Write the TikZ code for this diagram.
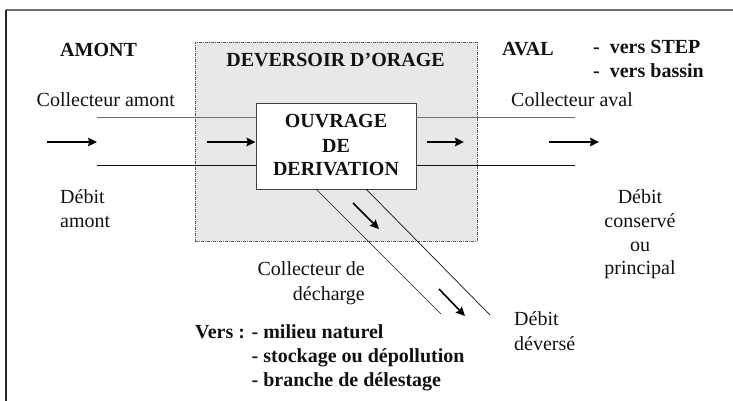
\documentclass[tikz,border=0pt]{standalone}
\usepackage{fontspec}
\setmainfont{Liberation Serif}
\usetikzlibrary{arrows.meta}
\definecolor{boxgray}{HTML}{E8E8E8}
\definecolor{linegray}{HTML}{6E6E6E}
\definecolor{inkc}{HTML}{111111}
\begin{document}
\begin{tikzpicture}[x=1pt,y=-1pt,
  txt/.style={font=\fontsize{20}{24}\selectfont, inner sep=0pt, text height=14pt, text depth=4pt, text=inkc},
  btxt/.style={txt, font=\fontsize{20}{24}\selectfont\bfseries},
  pipe/.style={line width=0.9pt, draw=inkc},
  flow/.style={line width=1.6pt, draw=black, -{Stealth[length=9pt,width=8.5pt,inset=1.2pt]}}
]
\useasboundingbox (0,0) rectangle (733,401);
% frame
\draw[linegray, line width=1.2pt] (6,10) -- (733,10);
\draw[black!85, line width=1.3pt] (6,10) -- (6,401);

% deversoir box
\node[draw=black!65, fill=boxgray, line width=0.8pt, dash pattern=on 3pt off 1pt on 1pt off 1pt,
      minimum width=282pt, minimum height=199pt, inner sep=0pt] (dev) at (336,141.5) {};
\node[btxt] (devt) at (335.5,62) {DEVERSOIR D'ORAGE};

% ouvrage box
\node[draw=black!75, fill=white, line width=0.9pt, minimum width=160pt, minimum height=86pt, inner sep=0pt] (ouv) at (336,146) {};
\node[btxt] (o1) at (336,123) {OUVRAGE};
\node[btxt] (o2) at (336,147) {DE};
\node[btxt] (o3) at (336,170) {DERIVATION};

% collectors
\coordinate (ca1) at (97,117);
\coordinate (ca2) at (97,165);
\coordinate (cv1) at (575,117);
\coordinate (cv2) at (575,165);
\draw[pipe, draw=linegray] (ca1) -- (ouv.west |- ca1);
\draw[pipe] (ca2) -- (ouv.west |- ca2);
\draw[pipe, draw=linegray] (ouv.east |- cv1) -- (cv1);
\draw[pipe] (ouv.east |- cv2) -- (cv2);

% discharge collector
\coordinate (dd1) at (316,189);
\coordinate (dd2) at (366,189);
\coordinate (de1) at (441,314);
\coordinate (de2) at (490,315);
\draw[pipe, line width=0.7pt] (dd1) -- (de1);
\draw[pipe, line width=0.7pt] (dd2) -- (de2);

% flow arrows
\coordinate (a1s) at (47,142);
\coordinate (a1e) at (97,142);
\coordinate (a2s) at (207,142);
\coordinate (a3s) at (427,142);
\coordinate (a3e) at (464,142);
\coordinate (a4s) at (549,142);
\coordinate (a4e) at (599,142);
\coordinate (a5s) at (353,203);
\coordinate (a5e) at (379,229);
\coordinate (a6s) at (439,289);
\coordinate (a6e) at (465,316);
\draw[flow] (a1s) -- (a1e);
\draw[flow] (a2s) -- (ouv.west |- a2s);
\draw[flow] (a3s) -- (a3e);
\draw[flow] (a4s) -- (a4e);
\draw[flow] (a5s) -- (a5e);
\draw[flow] (a6s) -- (a6e);

% labels
\node[btxt, anchor=west] (amont) at (60,52) {AMONT};
\node[btxt, anchor=west] (aval) at (502,51) {AVAL};
\node[btxt, anchor=west] (step) at (593,49) {-\ \ vers STEP};
\node[btxt, anchor=west] (bassin) at (593,73) {-\ \ vers bassin};
\node[txt, anchor=west] (colam) at (36.5,102) {Collecteur amont};
\node[txt, anchor=west] (colav) at (511,102) {Collecteur aval};
\node[txt, anchor=west] (deb1) at (60,198) {Débit};
\node[txt, anchor=west] (deb2) at (60,222) {amont};
\node[txt] (dc1) at (640,198) {Débit};
\node[txt] (dc2) at (640,222) {conservé};
\node[txt] (dc3) at (640,246) {ou};
\node[txt] (dc4) at (640,269) {principal};
\node[txt, anchor=east] (cd1) at (365,270) {Collecteur de};
\node[txt, anchor=east] (cd2) at (365,295) {décharge};
\node[txt, anchor=west] (dv1) at (514,320) {Débit};
\node[txt, anchor=west] (dv2) at (514,345) {déversé};
\node[btxt, anchor=west] (v1) at (195,333) {Vers : - milieu naturel};
\node[btxt, anchor=west] (v2) at (251.5,357) {- stockage ou dépollution};
\node[btxt, anchor=west] (v3) at (251.5,381) {- branche de délestage};
\end{tikzpicture}
\end{document}
